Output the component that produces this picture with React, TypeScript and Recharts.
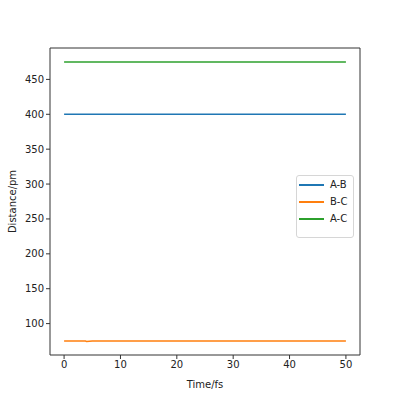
import React from 'react';
import { LineChart, Line, XAxis, YAxis, ReferenceLine } from 'recharts';

const times = [0, 1, 2, 3, 3.8, 4, 5, 6, 8, 10, 15, 20, 25, 30, 35, 40, 45, 50];
const abValues = [400, 400, 400, 400, 400, 400, 400, 400, 400, 400, 400, 400, 400, 400, 400, 400, 400, 400];
const bcValues = [75, 75, 75, 75, 75, 74.2, 75, 75, 75, 75, 75, 75, 75, 75, 75, 75, 75, 75];
const acValues = [475, 475, 475, 475, 475, 475, 475, 475, 475, 475, 475, 475, 475, 475, 475, 475, 475, 475];
const xTicks = [0, 10, 20, 30, 40, 50];
const yTicks = [100, 150, 200, 250, 300, 350, 400, 450];
const seriesNames = ['A-B', 'B-C', 'A-C'];

const data = times.map((t, i) => ({ t, ab: abValues[i], bc: bcValues[i], ac: acValues[i] }));

const FONT = 'DejaVu Sans, sans-serif';
const AXC = '#333333';

const XLabel = (props: any) => {
  const vb = props.viewBox || {};
  return (
    <text x={vb.x + vb.width / 2} y={vb.y + 29} textAnchor="middle" dominantBaseline="central"
      fontFamily={FONT} fontSize={10} fill="#222">Time/fs</text>
  );
};
const YLabel = (props: any) => {
  const vb = props.viewBox || {};
  const cy = vb.y + vb.height / 2;
  return (
    <text x={12} y={cy} textAnchor="middle" dominantBaseline="central" transform={`rotate(-90, 12, ${cy})`}
      fontFamily={FONT} fontSize={10} fill="#222">Distance/pm</text>
  );
};

const colors = ['#1f77b4', '#ff7f0e', '#2ca02c'];

const LegendBox = () => (
  <div style={{ position: 'absolute', left: 296, top: 175, width: 58, height: 63, boxSizing: 'border-box', border: '1px solid #d6d6d6', borderRadius: 3, background: 'rgba(255,255,255,0.8)', fontFamily: FONT, fontSize: 10, color: '#222' }}>
    {seriesNames.map((n, i) => (
      <div key={n} style={{ position: 'absolute', top: 2 + i * 17, left: 0, height: 14, width: 58 }}>
        <div style={{ position: 'absolute', left: 2, top: 6, width: 25, height: 2, background: colors[i] }} />
        <div style={{ position: 'absolute', left: 33, top: 0, lineHeight: '14px' }}>{n}</div>
      </div>
    ))}
  </div>
);

export default function App() {
  return (
    <div style={{ position: 'absolute', left: 0, top: 0, width: 400, height: 400, background: '#fff' }}>
      <LineChart width={400} height={400} data={data} margin={{ top: 48, right: 40, bottom: 0, left: 0 }}>
        <XAxis dataKey="t" type="number" domain={[-2.5, 52.5]} ticks={xTicks} height={45}
          allowDataOverflow tick={{ fontFamily: FONT, fontSize: 10, fill: '#222' }}
          tickSize={4} tickMargin={2} stroke={AXC} axisLine={{ stroke: AXC }} tickLine={{ stroke: AXC }}
          label={<XLabel />} />
        <YAxis type="number" domain={[55, 495]} ticks={yTicks} width={50} allowDataOverflow
          tick={{ fontFamily: FONT, fontSize: 10, fill: '#222' }} tickSize={4} tickMargin={2}
          axisLine={{ stroke: AXC }} tickLine={{ stroke: AXC }} label={<YLabel />} />
        <ReferenceLine y={495} stroke={AXC} ifOverflow="visible" />
        <ReferenceLine x={52.5} stroke={AXC} ifOverflow="visible" />
        <Line dataKey="ab" name="A-B" stroke={colors[0]} strokeWidth={1.5} dot={false} isAnimationActive={false} />
        <Line dataKey="bc" name="B-C" stroke={colors[1]} strokeWidth={1.5} dot={false} isAnimationActive={false} />
        <Line dataKey="ac" name="A-C" stroke={colors[2]} strokeWidth={1.5} dot={false} isAnimationActive={false} />
      </LineChart>
      <LegendBox />
    </div>
  );
}
